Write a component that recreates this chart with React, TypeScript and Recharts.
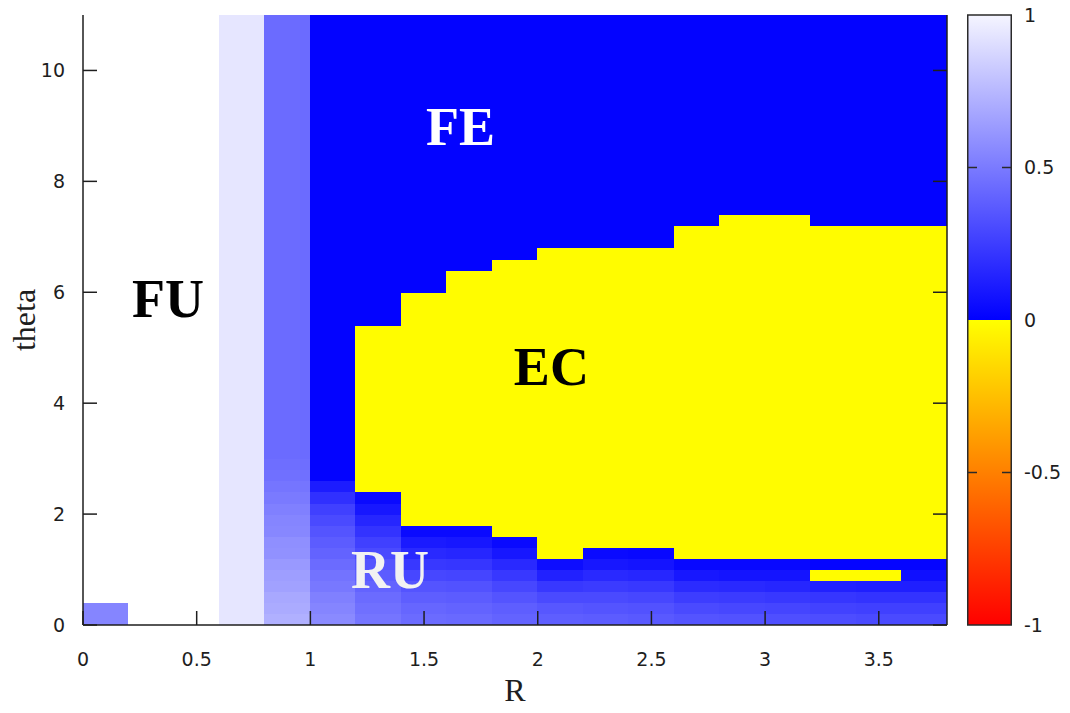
import React from 'react';
import { ComposedChart, XAxis, YAxis, ReferenceArea, ReferenceDot } from 'recharts';

// Grid geometry of the phase map
const R_STEP = 0.2;
const THETA_STEP = 0.2;
const R_MAX = 3.8;
const THETA_MAX = 11;

// Left edge of every R column
const columnStarts = [0, 0.2, 0.4, 0.6, 0.8, 1.0, 1.2, 1.4, 1.6, 1.8, 2.0, 2.2, 2.4, 2.6, 2.8, 3.0, 3.2, 3.4, 3.6];

// Order-parameter levels of the uniform phases
const FE = 0.01; // fully entangled (pure blue)
const EC = -0.01; // entangled-cluster phase (yellow)

// Value of each column above its graded bottom rows (outside the EC band)
const upperValues = [1, 1, 1, 0.9, 0.42, FE, FE, FE, FE, FE, FE, FE, FE, FE, FE, FE, FE, FE, FE];

// Lower / upper theta bounds of the EC band in each column
const ecLow = [null, null, null, null, null, null, 2.4, 1.8, 1.8, 1.6, 1.2, 1.4, 1.4, 1.2, 1.2, 1.2, 1.2, 1.2, 1.2];
const ecHigh = [null, null, null, null, null, null, 5.4, 6.0, 6.4, 6.6, 6.8, 6.8, 6.8, 7.2, 7.4, 7.4, 7.2, 7.2, 7.2];

// Row-by-row values near theta = 0 (one entry per 0.2 of theta, from the bottom)
const lowerValues: number[][] = [
  [0.52, 0.52],
  [],
  [],
  [],
  [0.69, 0.67, 0.66, 0.63, 0.62, 0.6, 0.57, 0.56, 0.53, 0.52, 0.5, 0.48, 0.46, 0.44, 0.43],
  [0.54, 0.52, 0.5, 0.47, 0.45, 0.42, 0.39, 0.36, 0.33, 0.29, 0.25, 0.19, 0.11],
  [0.46, 0.44, 0.42, 0.39, 0.36, 0.33, 0.29, 0.25, 0.2, 0.15, 0.09, 0.04],
  [0.42, 0.4, 0.37, 0.33, 0.28, 0.22, 0.16, 0.1, 0.04],
  [0.41, 0.39, 0.36, 0.32, 0.27, 0.21, 0.15, 0.09, 0.04],
  [0.39, 0.37, 0.33, 0.28, 0.22, 0.16, 0.09, 0.04],
  [0.37, 0.34, 0.29, 0.22, 0.13, 0.05],
  [0.36, 0.33, 0.29, 0.23, 0.16, 0.09, 0.04],
  [0.35, 0.32, 0.28, 0.22, 0.15, 0.08, 0.03],
  [0.33, 0.29, 0.24, 0.17, 0.09, 0.03],
  [0.32, 0.28, 0.23, 0.16, 0.08, 0.03],
  [0.31, 0.27, 0.22, 0.15, 0.08, 0.03],
  [0.3, 0.26, 0.21, 0.13, EC, 0.02],
  [0.29, 0.25, 0.2, 0.12, EC, 0.02],
  [0.29, 0.25, 0.2, 0.12, 0.06, 0.02],
];

const xTicks = [0, 0.5, 1, 1.5, 2, 2.5, 3, 3.5];
const yTicks = [0, 2, 4, 6, 8, 10];

// Colour scale: extent, labelled levels and marked levels
const colorbarMin = -1;
const colorbarMax = 1;
const colorbarTicks = [-1, -0.5, 0, 0.5, 1];
const colorbarMarks = [-0.5, 0.5];
const colorbarSpan = [{ pos: 0 }, { pos: 1 }];

const regionLabels = [
  { text: 'FU', r: 0.374, theta: 5.55, color: '#000000' },
  { text: 'FE', r: 1.66, theta: 8.65, color: '#ffffff' },
  { text: 'EC', r: 2.06, theta: 4.32, color: '#000000' },
  { text: 'RU', r: 1.35, theta: 0.67, color: '#f2f2f2' },
];

const TICK_FONT = '"DejaVu Sans", sans-serif';
const SERIF = '"Liberation Serif", "Times New Roman", serif';
const INK = '#1e1e1e';
const FRAME = '#2a2a2a';
const TICK_LEN = 14;
const X_LABEL_GAP = 27;
const Y_LABEL_GAP = 18;

// Palette: blue→white above zero, yellow→orange→red below
function colorFor(v: number): string {
  if (v > 0) {
    const c = Math.round(255 * v);
    return `rgb(${c},${c},255)`;
  }
  const t = Math.min(1, -v);
  return `rgb(255,${Math.round(255 * (1 - t))},0)`;
}

type Cell = { r0: number; t0: number; t1: number; v: number };

function buildCells(): Cell[] {
  const cells: Cell[] = [];
  columnStarts.forEach((r0, k) => {
    const segs: [number, number, number][] = [];
    lowerValues[k].forEach((v, i) => segs.push([i * THETA_STEP, (i + 1) * THETA_STEP, v]));
    let start = lowerValues[k].length * THETA_STEP;
    const lo = ecLow[k];
    const hi = ecHigh[k];
    if (lo != null && hi != null) {
      if (lo > start + 1e-9) segs.push([start, lo, upperValues[k]]);
      segs.push([lo, hi, EC]);
      start = hi;
    }
    segs.push([start, THETA_MAX, upperValues[k]]);
    // merge neighbouring rows of equal value
    const merged: [number, number, number][] = [];
    segs.forEach((s) => {
      const last = merged[merged.length - 1];
      if (last && last[2] === s[2] && Math.abs(last[1] - s[0]) < 1e-9) last[1] = s[1];
      else merged.push([...s] as [number, number, number]);
    });
    merged.forEach(([t0, t1, v]) => cells.push({ r0, t0, t1, v }));
  });
  return cells;
}

const cells = buildCells();

function BottomTick(props: any) {
  const { x, y, payload } = props;
  const axisY = y - X_LABEL_GAP;
  return (
    <g>
      <line x1={x} x2={x} y1={axisY} y2={axisY - TICK_LEN} stroke={INK} strokeWidth={1.5} />
      <text x={x} y={y} dy="0.76em" textAnchor="middle" fontFamily={TICK_FONT} fontSize={19} fill={INK}>
        {payload.value}
      </text>
    </g>
  );
}

function LeftTick(props: any) {
  const { x, y, payload } = props;
  const axisX = x + Y_LABEL_GAP;
  return (
    <g>
      <line x1={axisX} x2={axisX + TICK_LEN} y1={y} y2={y} stroke={INK} strokeWidth={1.5} />
      <text x={x} y={y} dy="0.36em" textAnchor="end" fontFamily={TICK_FONT} fontSize={19} fill={INK}>
        {payload.value}
      </text>
    </g>
  );
}

function TopTick(props: any) {
  const { x, y } = props;
  return <line x1={x} x2={x} y1={y} y2={y + TICK_LEN} stroke={INK} strokeWidth={1.5} />;
}

function RightTick(props: any) {
  const { x, y } = props;
  return <line x1={x - TICK_LEN} x2={x} y1={y} y2={y} stroke={INK} strokeWidth={1.5} />;
}

const CB_GAP = 12;
const CB_MARK = 10;

function ColorbarTick(props: any) {
  const { x, y, payload } = props;
  return (
    <text x={x} y={y} dy="0.36em" textAnchor="start" fontFamily={TICK_FONT} fontSize={19} fill={INK}>
      {payload.value}
    </text>
  );
}

// Colour strip with its frame and the inward marks at the labelled half levels
function ColorbarShape(props: any) {
  const { x, y, width, height } = props;
  const levelY = (v: number) => y + ((colorbarMax - v) / (colorbarMax - colorbarMin)) * height;
  return (
    <g>
      <defs>
        <linearGradient id="cbFill" x1="0" y1="0" x2="0" y2="1">
          <stop offset="0%" stopColor={colorFor(0.96)} />
          <stop offset="50%" stopColor={colorFor(0.001)} />
          <stop offset="50%" stopColor={colorFor(0)} />
          <stop offset="75%" stopColor={colorFor(-0.5)} />
          <stop offset="100%" stopColor={colorFor(-1)} />
        </linearGradient>
      </defs>
      <rect x={x} y={y} width={width} height={height} fill="url(#cbFill)" />
      {colorbarMarks.map((m) => (
        <g key={m}>
          <line x1={x} x2={x + CB_MARK} y1={levelY(m)} y2={levelY(m)} stroke={FRAME} strokeWidth={1.5} />
          <line x1={x + width - CB_MARK} x2={x + width} y1={levelY(m)} y2={levelY(m)} stroke={FRAME} strokeWidth={1.5} />
        </g>
      ))}
      <rect x={x + 0.75} y={y} width={width - 1.5} height={height} fill="none" stroke={FRAME} strokeWidth={1.5} />
    </g>
  );
}

function RegionText(props: any) {
  const { cx, cy, label } = props;
  return (
    <text x={cx} y={cy} textAnchor="middle" fontFamily={SERIF} fontWeight="bold" fontSize={54} fill={label.color}>
      {label.text}
    </text>
  );
}

const CHART_H = 713;

export default function App() {
  return (
    <div style={{ display: 'flex', flexDirection: 'row', width: 1070, height: CHART_H, margin: '-8px 0 0 -8px' }}>
      <ComposedChart width={967} height={CHART_H} margin={{ top: 15, right: 0, bottom: 0, left: 8 }}>
        <XAxis
          type="number"
          dataKey="r"
          domain={[0, R_MAX]}
          ticks={xTicks}
          interval={0}
          height={88}
          allowDataOverflow
          axisLine={{ stroke: INK, strokeWidth: 1.5 }}
          tickLine={false}
          tickSize={0}
          tickMargin={X_LABEL_GAP}
          tick={<BottomTick />}
          label={{
            content: (p: any) => {
              const vb = p.viewBox;
              return (
                <text x={vb.x + vb.width / 2} y={vb.y + 76} textAnchor="middle" fontFamily={SERIF} fontSize={32} fill={INK}>
                  R
                </text>
              );
            },
          }}
        />
        <XAxis
          xAxisId="top"
          orientation="top"
          type="number"
          domain={[0, R_MAX]}
          ticks={xTicks}
          interval={0}
          height={0}
          allowDataOverflow
          axisLine={{ stroke: INK, strokeWidth: 1.5 }}
          tickLine={false}
          tickSize={0}
          tickMargin={0}
          tick={<TopTick />}
        />
        <YAxis
          type="number"
          dataKey="theta"
          domain={[0, THETA_MAX]}
          ticks={yTicks}
          interval={0}
          width={75}
          allowDataOverflow
          axisLine={{ stroke: INK, strokeWidth: 1.5 }}
          tickLine={false}
          tickSize={0}
          tickMargin={Y_LABEL_GAP}
          tick={<LeftTick />}
          label={{
            content: (p: any) => {
              const vb = p.viewBox;
              const cx = vb.x + 27;
              const cy = vb.y + vb.height / 2;
              return (
                <text x={cx} y={cy} transform={`rotate(-90 ${cx} ${cy})`} textAnchor="middle" fontFamily={SERIF} fontSize={32} fill={INK}>
                  theta
                </text>
              );
            },
          }}
        />
        <YAxis
          yAxisId="right"
          orientation="right"
          type="number"
          domain={[0, THETA_MAX]}
          ticks={yTicks}
          interval={0}
          width={20}
          allowDataOverflow
          axisLine={{ stroke: INK, strokeWidth: 1.5 }}
          tickLine={false}
          tickSize={0}
          tickMargin={0}
          tick={<RightTick />}
        />
        {cells.map((c, i) => {
          const fill = colorFor(c.v);
          return (
            <ReferenceArea
              key={`cell-${i}`}
              x1={c.r0}
              x2={c.r0 + R_STEP}
              y1={c.t0}
              y2={c.t1}
              fill={fill}
              fillOpacity={1}
              stroke={fill}
              strokeWidth={1}
              shapeRendering="crispEdges"
              ifOverflow="hidden"
            />
          );
        })}
        {regionLabels.map((l) => (
          <ReferenceDot
            key={l.text}
            x={l.r}
            y={l.theta}
            r={0}
            ifOverflow="visible"
            shape={(p: any) => <RegionText {...p} label={l} />}
          />
        ))}
      </ComposedChart>

      <ComposedChart width={103} height={CHART_H} data={colorbarSpan} margin={{ top: 15, right: 0, bottom: 0, left: 0 }}>
        <XAxis dataKey="pos" type="number" domain={[0, 1]} height={88} tick={false} tickLine={false} axisLine={false} />
        <YAxis
          orientation="right"
          type="number"
          domain={[colorbarMin, colorbarMax]}
          ticks={colorbarTicks}
          interval={0}
          width={58}
          allowDataOverflow
          axisLine={false}
          tickLine={false}
          tickSize={0}
          tickMargin={CB_GAP}
          tick={<ColorbarTick />}
        />
        <ReferenceArea
          x1={0}
          x2={1}
          y1={colorbarMin}
          y2={colorbarMax}
          fillOpacity={1}
          ifOverflow="visible"
          shape={(p: any) => <ColorbarShape {...p} />}
        />
      </ComposedChart>
    </div>
  );
}
